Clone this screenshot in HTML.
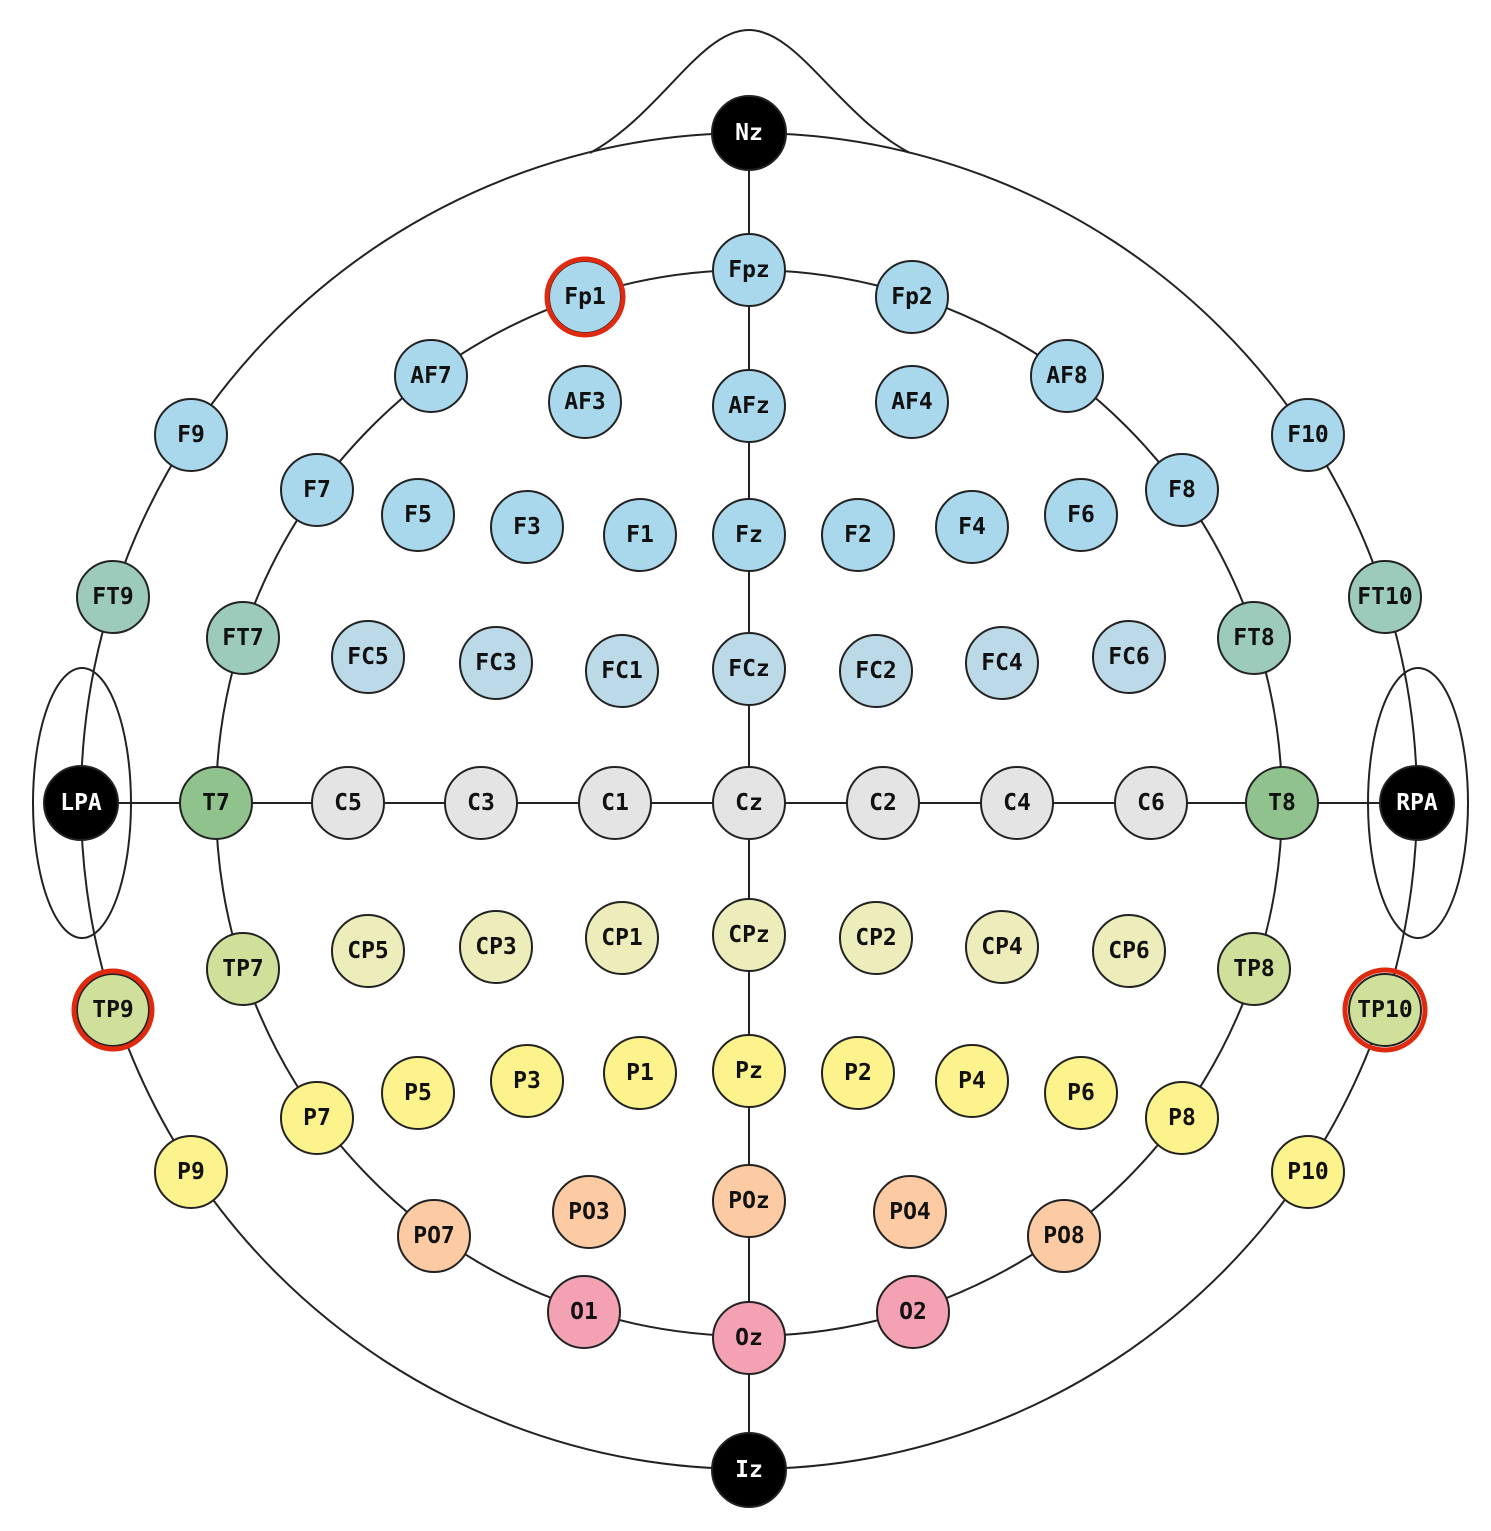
<!DOCTYPE html>
<html><head><meta charset="utf-8"><style>
html,body{margin:0;padding:0;background:#fff;}
svg{display:block}
text{font-family:"DejaVu Sans Mono","Liberation Mono",monospace;font-weight:bold;font-size:23px;text-anchor:middle;dominant-baseline:central;fill:#111;}
</style></head><body>
<svg width="1491" height="1531" viewBox="0 0 1491 1531" xmlns="http://www.w3.org/2000/svg">
<g fill="none" stroke="#222" stroke-width="2">
<path d="M590 153 C660 115 700 30 749 30 C798 30 838 115 910 153"/>
<circle cx="749" cy="801" r="668"/>
<circle cx="749" cy="803" r="533"/>
<ellipse cx="82" cy="803" rx="49" ry="135"/>
<ellipse cx="1418" cy="803" rx="50" ry="135"/>
<line x1="749" y1="133" x2="749" y2="1470"/>
<line x1="81" y1="803" x2="1417" y2="803"/>
</g>
<g stroke="#222" stroke-width="2">
<g fill="#000"><circle cx="749" cy="133" r="37"/><circle cx="749" cy="1470" r="37"/><circle cx="81" cy="803" r="37"/><circle cx="1417" cy="803" r="37"/></g>
<g fill="#a9d7ec">
<circle cx="749" cy="270" r="36"/><circle cx="585" cy="297" r="36"/><circle cx="912" cy="297" r="36"/>
<circle cx="431" cy="376" r="36"/><circle cx="585" cy="402" r="36"/><circle cx="749" cy="406" r="36"/><circle cx="912" cy="402" r="36"/><circle cx="1067" cy="376" r="36"/>
<circle cx="191" cy="435" r="36"/><circle cx="1308" cy="435" r="36"/>
<circle cx="317" cy="490" r="36"/><circle cx="418" cy="515" r="36"/><circle cx="527" cy="527" r="36"/><circle cx="640" cy="535" r="36"/><circle cx="749" cy="535" r="36"/><circle cx="858" cy="535" r="36"/><circle cx="972" cy="527" r="36"/><circle cx="1081" cy="515" r="36"/><circle cx="1182" cy="490" r="36"/>
</g>
<g fill="#9ccbbb">
<circle cx="113" cy="597" r="36"/><circle cx="1385" cy="597" r="36"/><circle cx="243" cy="638" r="36"/><circle cx="1254" cy="638" r="36"/>
</g>
<g fill="#bcd9e8">
<circle cx="368" cy="657" r="36"/><circle cx="496" cy="663" r="36"/><circle cx="622" cy="671" r="36"/><circle cx="749" cy="669" r="36"/><circle cx="876" cy="671" r="36"/><circle cx="1002" cy="663" r="36"/><circle cx="1129" cy="657" r="36"/>
</g>
<g fill="#8fc28c"><circle cx="216" cy="803" r="36"/><circle cx="1282" cy="803" r="36"/></g>
<g fill="#e4e4e4">
<circle cx="348" cy="803" r="36"/><circle cx="481" cy="803" r="36"/><circle cx="615" cy="803" r="36"/><circle cx="749" cy="803" r="36"/><circle cx="883" cy="803" r="36"/><circle cx="1017" cy="803" r="36"/><circle cx="1151" cy="803" r="36"/>
</g>
<g fill="#cfe09a">
<circle cx="243" cy="969" r="36"/><circle cx="1254" cy="969" r="36"/><circle cx="113" cy="1010" r="36"/><circle cx="1385" cy="1010" r="36"/>
</g>
<g fill="#ecedba">
<circle cx="368" cy="951" r="36"/><circle cx="496" cy="947" r="36"/><circle cx="622" cy="938" r="36"/><circle cx="749" cy="935" r="36"/><circle cx="876" cy="938" r="36"/><circle cx="1002" cy="947" r="36"/><circle cx="1129" cy="951" r="36"/>
</g>
<g fill="#fdf38c">
<circle cx="191" cy="1172" r="36"/><circle cx="1308" cy="1172" r="36"/>
<circle cx="317" cy="1118" r="36"/><circle cx="418" cy="1093" r="36"/><circle cx="527" cy="1081" r="36"/><circle cx="640" cy="1073" r="36"/><circle cx="749" cy="1071" r="36"/><circle cx="858" cy="1073" r="36"/><circle cx="972" cy="1081" r="36"/><circle cx="1081" cy="1093" r="36"/><circle cx="1182" cy="1118" r="36"/>
</g>
<g fill="#fdcba3">
<circle cx="434" cy="1236" r="36"/><circle cx="589" cy="1212" r="36"/><circle cx="749" cy="1201" r="36"/><circle cx="910" cy="1212" r="36"/><circle cx="1064" cy="1236" r="36"/>
</g>
<g fill="#f4a2b3">
<circle cx="584" cy="1312" r="36"/><circle cx="749" cy="1338" r="36"/><circle cx="913" cy="1312" r="36"/>
</g>
</g>
<g fill="none" stroke="#e02a10" stroke-width="5">
<circle cx="585" cy="297" r="38"/><circle cx="113" cy="1010" r="39"/><circle cx="1385" cy="1010" r="40"/>
</g>
<g>
<text x="749" y="133" style="fill:#fff">Nz</text>
<text x="749" y="1470" style="fill:#fff">Iz</text>
<text x="81" y="803" style="fill:#fff">LPA</text>
<text x="1417" y="803" style="fill:#fff">RPA</text>
<text x="749" y="270">Fpz</text><text x="585" y="297">Fp1</text><text x="912" y="297">Fp2</text>
<text x="431" y="376">AF7</text><text x="585" y="402">AF3</text><text x="749" y="406">AFz</text><text x="912" y="402">AF4</text><text x="1067" y="376">AF8</text>
<text x="191" y="435">F9</text><text x="1308" y="435">F10</text>
<text x="317" y="490">F7</text><text x="418" y="515">F5</text><text x="527" y="527">F3</text><text x="640" y="535">F1</text><text x="749" y="535">Fz</text><text x="858" y="535">F2</text><text x="972" y="527">F4</text><text x="1081" y="515">F6</text><text x="1182" y="490">F8</text>
<text x="113" y="597">FT9</text><text x="1385" y="597">FT10</text><text x="243" y="638">FT7</text><text x="1254" y="638">FT8</text>
<text x="368" y="657">FC5</text><text x="496" y="663">FC3</text><text x="622" y="671">FC1</text><text x="749" y="669">FCz</text><text x="876" y="671">FC2</text><text x="1002" y="663">FC4</text><text x="1129" y="657">FC6</text>
<text x="216" y="803">T7</text><text x="1282" y="803">T8</text>
<text x="348" y="803">C5</text><text x="481" y="803">C3</text><text x="615" y="803">C1</text><text x="749" y="803">Cz</text><text x="883" y="803">C2</text><text x="1017" y="803">C4</text><text x="1151" y="803">C6</text>
<text x="243" y="969">TP7</text><text x="1254" y="969">TP8</text><text x="113" y="1010">TP9</text><text x="1385" y="1010">TP10</text>
<text x="368" y="951">CP5</text><text x="496" y="947">CP3</text><text x="622" y="938">CP1</text><text x="749" y="935">CPz</text><text x="876" y="938">CP2</text><text x="1002" y="947">CP4</text><text x="1129" y="951">CP6</text>
<text x="191" y="1172">P9</text><text x="1308" y="1172">P10</text>
<text x="317" y="1118">P7</text><text x="418" y="1093">P5</text><text x="527" y="1081">P3</text><text x="640" y="1073">P1</text><text x="749" y="1071">Pz</text><text x="858" y="1073">P2</text><text x="972" y="1081">P4</text><text x="1081" y="1093">P6</text><text x="1182" y="1118">P8</text>
<text x="434" y="1236">PO7</text><text x="589" y="1212">PO3</text><text x="749" y="1201">POz</text><text x="910" y="1212">PO4</text><text x="1064" y="1236">PO8</text>
<text x="584" y="1312">O1</text><text x="749" y="1338">Oz</text><text x="913" y="1312">O2</text>
</g>
</svg>
</body></html>
